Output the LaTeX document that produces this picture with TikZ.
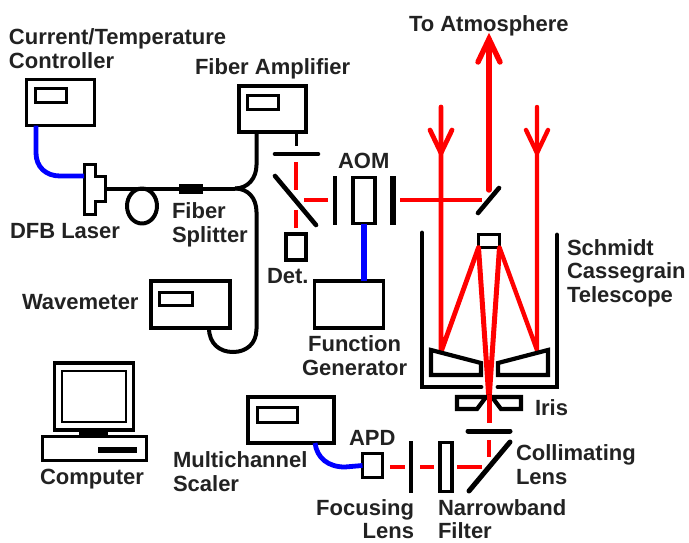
\documentclass[tikz,border=0pt]{standalone}
\usepackage{fontspec}
\setmainfont{Liberation Sans}
\definecolor{txt}{HTML}{222222}
\begin{document}
\begin{tikzpicture}[x=1pt,y=-1pt,
  lbl/.style={anchor=base west,inner sep=0,outer sep=0,text=txt,font=\bfseries\fontsize{22}{23.2}\selectfont,align=left},
  lblr/.style={lbl,anchor=base east,align=right},
  inst/.style={draw,line width=3.6pt,inner sep=0,outer sep=0},
  disp/.style={draw,line width=3pt,inner sep=0,outer sep=0},
  fiber/.style={line width=4pt,line join=round},
  bluef/.style={line width=4.8pt,blue!100,line join=round},
  beam/.style={line width=4.2pt,red,line join=round},
  rayb/.style={line width=5pt,red,line join=round},
  lens/.style={line width=4.6pt,line cap=round},
  blk/.style={fill=black,draw=none,inner sep=0,outer sep=0}]
\useasboundingbox (0,0) rectangle (689,542);
% instruments
\node[inst,minimum width=68,minimum height=46] (ctrl) at (60.5,102.5) {};
\node[disp,minimum width=31,minimum height=14] (ctrld) at (50.5,95) {};
\node[inst,minimum width=67,minimum height=46] (amp) at (272.5,109) {};
\node[disp,minimum width=31,minimum height=14] (ampd) at (262.5,102) {};
\node[inst,minimum width=79,minimum height=47] (wave) at (190.5,304.5) {};
\node[disp,minimum width=33,minimum height=13] (waved) at (175.5,298.5) {};
\node[inst,minimum width=69,minimum height=47] (fg) at (349,304.5) {};
\node[inst,minimum width=86,minimum height=46] (mcs) at (291,420) {};
\node[disp,minimum width=40,minimum height=15] (mcsd) at (277,414.5) {};
\node[inst,minimum width=20,minimum height=26] (det) at (296,247) {};
\node[inst,minimum width=20,minimum height=24] (apd) at (372.5,465.5) {};
\node[inst,minimum width=22,minimum height=46] (aom) at (364,200.5) {};
\node[inst,minimum width=12,minimum height=49] (filt) at (446,467) {};
\node[inst,minimum width=21,minimum height=13] (sec) at (489,241) {};
% computer
\node[inst,minimum width=79,minimum height=67] (mon) at (94,396.5) {};
\node[disp,line width=2.2pt,minimum width=64,minimum height=51] (scr) at (94,396.5) {};
\node[blk,minimum width=29,minimum height=5] (neck) at (93.5,433) {};
\node[disp,minimum width=104,minimum height=24] (base) at (94.5,448.5) {};
\node[blk,minimum width=39,minimum height=6] (slot) at (117.5,449.5) {};
% laser
\draw[line width=3pt,line join=miter] (84,164)--(95,164)--(95,176)--(105,176)--(105,201)--(95,201)--(95,214)--(84,214)--cycle;
\coordinate (lasR) at (105,188.5);
\coordinate (lasB) at (84,176);
% fibers
\coordinate (jn) at (235,188.5);
\node[blk,minimum width=24,minimum height=10] (split) at (191,188.5) {};
\draw[fiber] (lasR) -- (split) -- (jn);
\draw[fiber] (jn) .. controls (248,188.5) and (256.5,178) .. (256.5,165) -- ([xshift=-16]amp.south);
\draw[fiber] (jn) .. controls (248,188.5) and (256.5,198) .. (256.5,212) -- (256.5,329)
  .. controls (256.5,344) and (246,352) .. (233,352) .. controls (220,352) and (209,344) .. ([xshift=18.5]wave.south);
\draw[fiber] (142,206) ellipse [x radius=15,y radius=17.5];
\draw[line width=3pt] ([xshift=23.5]amp.south) -- (296,146);
% blue
\draw[bluef] ([xshift=-24.5]ctrl.south) -- (36,153) .. controls (36,167) and (46,176) .. (60,176) -- (lasB);
\draw[bluef,line width=5.4pt] (aom.south) -- (fg.north -| aom.south);
\draw[bluef] ([xshift=24]mcs.south) .. controls (317,458) and (328,467) .. (345,467) -- (apd.west);
% optics near AOM
\coordinate (ml1) at (275,154); \coordinate (ml2) at (318,154);
\draw[lens] (ml1) -- (ml2);
\draw[lens] (275,176) -- (316,225);
\draw[line width=3.6pt] (335,176) -- (335,225);
\draw[line width=5.2pt] (393,176) -- (393,225);
\draw[beam] (296,162) -- (296,190);
\draw[beam] (296,210) -- (296,228);
\draw[beam] (304,200) -- (328,200);
\draw[beam] (400,200) -- (482,200);
% beams
\draw[rayb,line cap=round,line width=4.8pt] (441,107) -- (441,352) -- (sec.south west);
\draw[rayb,line cap=round,line width=4.8pt] (430,130) -- (441,153) -- (452,130);
\draw[rayb,line cap=round,line width=4.4pt] (537,107) -- (537,350) -- (sec.south east);
\draw[rayb,line cap=round,line width=4.4pt] (526,130) -- (537,153) -- (548,130);
\draw[line width=5.4pt,red,line cap=round] (489,190) -- (489,40);
\draw[line width=5.4pt,red,line cap=round,line join=miter] (478,62) -- (489,39) -- (500,62);
\draw[rayb] (sec.south west) -- (489,400);
\draw[rayb] (sec.south east) -- (489,400);
% small mirror
\draw[lens] (478,213) -- (499,188);
% telescope
\draw[line width=4.8pt,line cap=round,line join=miter] (422,233) -- (422,387) -- (481,387);
\draw[line width=4.8pt,line cap=round,line join=miter] (557,235) -- (557,387) -- (498,387);
\draw[line width=4.2pt,line join=miter] (431,350) -- (481,363) -- (481,375) -- (431,375) -- cycle;
\draw[line width=4.2pt,line join=miter] (548,350) -- (498,363) -- (498,375) -- (548,375) -- cycle;
% iris
\draw[line width=4.2pt,line join=miter] (457,397) -- (486,397) -- (477,409) -- (457,409) -- cycle;
\draw[line width=4.2pt,line join=miter] (521,397) -- (492,397) -- (501,409) -- (521,409) -- cycle;
\draw[rayb] (489,395) -- (489,423);
% detection
\draw[lens,line width=5pt] (468,431) -- (510,431);
\draw[beam] (489,440) -- (489,457);
\draw[lens,line width=5pt] (469,491) -- (510,442);
\draw[beam] (390,467) -- (405,467);
\draw[beam] (420,467) -- (434,467);
\draw[beam] (457,467) -- (482,467);
\draw[line width=3.6pt] (411,441) -- (411,493);
% labels
\node[lbl] (t1) at (9,68) {Current/Temperature\\Controller};
\node[lbl] (t2) at (195,74) {Fiber Amplifier};
\node[lbl] (t3) at (10,238) {DFB Laser};
\node[lbl] (t4) at (172,242) {Fiber\\Splitter};
\node[lbl] (t5) at (338,168) {AOM};
\node[lbl] (t6) at (267,283) {Det.};
\node[lbl] (t7) at (409,31) {To Atmosphere};
\node[lbl] (t8) at (567,302) {Schmidt\\Cassegrain\\Telescope};
\node[lbl] (t9) at (22,309) {Wavemeter};
\node[lbl,align=center] (t10) at (302,375) {Function\\Generator};
\node[lbl] (t11) at (535,415) {Iris};
\node[lbl] (t12) at (40,484) {Computer};
\node[lbl] (t13) at (173,491) {Multichannel\\Scaler};
\node[lbl] (t14) at (349,445) {APD};
\node[lbl] (t15) at (516,484) {Collimating\\Lens};
\node[lblr] (t16) at (414,538.5) {Focusing\\Lens};
\node[lbl] (t17) at (438,538.5) {Narrowband\\Filter};
\end{tikzpicture}
\end{document}
